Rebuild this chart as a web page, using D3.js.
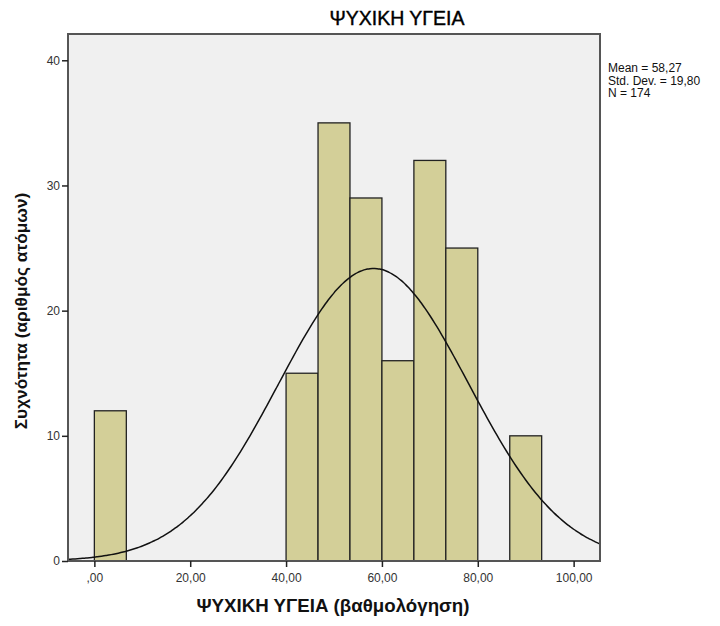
<!DOCTYPE html>
<html>
<head>
<meta charset="utf-8">
<script src="https://cdn.jsdelivr.net/npm/d3@7"></script>
<style>
  body { margin: 0; background: #fff; }
  text { font-family: "Liberation Sans", Arial, sans-serif; }
</style>
</head>
<body>
<div id="chart"></div>
<script>
// histogram bins (lower edge, upper edge) and counts
const binStarts = [0, 40, 46.67, 53.33, 60, 66.67, 73.33, 86.67];
const binEnds = [6.67, 46.67, 53.33, 60, 66.67, 73.33, 80, 93.33];
const counts = [12, 15, 35, 29, 16, 32, 25, 10];

const xTicks = [0, 20, 40, 60, 80, 100];
const xTickLabels = [",00", "20,00", "40,00", "60,00", "80,00", "100,00"];
const yTicks = [0, 10, 20, 30, 40];

const mean = 58.27;
const sd = 19.80;
const n = 174;
const binWidth = 6.667;
const statsLines = ["Mean = 58,27", "Std. Dev. = 19,80", "N = 174"];

const width = 720, height = 626;
const plotLeft = 68, plotRight = 600, plotTop = 34, plotBottom = 561;

const svg = d3.select("#chart").append("svg")
    .attr("width", width)
    .attr("height", height);

const x = d3.scaleLinear().domain([-5.5, 105.5]).range([plotLeft, plotRight]);
const y = d3.scaleLinear().domain([0, 42.1]).range([plotBottom, plotTop]);

// plot background
svg.append("rect")
    .attr("x", plotLeft).attr("y", plotTop)
    .attr("width", plotRight - plotLeft).attr("height", plotBottom - plotTop)
    .attr("fill", "#f0f0f0");

// bars
svg.append("g")
    .selectAll("rect")
    .data(counts)
    .join("rect")
    .attr("x", (d, i) => x(binStarts[i]))
    .attr("width", (d, i) => x(binEnds[i]) - x(binStarts[i]))
    .attr("y", d => y(d))
    .attr("height", d => y(0) - y(d))
    .attr("fill", "#d3cf98")
    .attr("stroke", "#222")
    .attr("stroke-width", 1.3);

// normal curve
const curvePts = d3.range(-5.5, 105.51, 0.5).map(v => [v,
    n * binWidth / (sd * Math.sqrt(2 * Math.PI)) * Math.exp(-0.5 * ((v - mean) / sd) ** 2)]);
svg.append("path")
    .datum(curvePts)
    .attr("fill", "none")
    .attr("stroke", "#111")
    .attr("stroke-width", 1.5)
    .attr("d", d3.line().x(d => x(d[0])).y(d => y(d[1])).curve(d3.curveBasis));

// frame
svg.append("rect")
    .attr("x", plotLeft).attr("y", plotTop)
    .attr("width", plotRight - plotLeft).attr("height", plotBottom - plotTop)
    .attr("fill", "none")
    .attr("stroke", "#555")
    .attr("stroke-width", 2);

// axes
const xAxis = svg.append("g")
    .attr("transform", `translate(0,${plotBottom})`)
    .call(d3.axisBottom(x).tickValues(xTicks).tickFormat((d, i) => xTickLabels[i]).tickSize(6).tickPadding(6));
const yAxis = svg.append("g")
    .attr("transform", `translate(${plotLeft},0)`)
    .call(d3.axisLeft(y).tickValues(yTicks).tickSize(6).tickPadding(2));
[xAxis, yAxis].forEach(g => {
    g.select(".domain").remove();
    g.selectAll(".tick line").attr("stroke", "#222").attr("stroke-width", 1.5);
    g.selectAll(".tick text").attr("fill", "#333").style("font-size", "12px")
        .style("font-family", "'Liberation Sans', Arial, sans-serif");
});

// title
svg.append("text")
    .attr("x", 397).attr("y", 25)
    .attr("text-anchor", "middle")
    .style("font-size", "19.5px")
    .attr("fill", "#000")
    .attr("stroke", "#000")
    .attr("stroke-width", 0.4)
    .text("ΨΥΧΙΚΗ ΥΓΕΙΑ");

// axis titles
svg.append("text")
    .attr("x", 333).attr("y", 612)
    .attr("text-anchor", "middle")
    .style("font-size", "18.7px")
    .style("font-weight", "bold")
    .attr("fill", "#111")
    .text("ΨΥΧΙΚΗ ΥΓΕΙΑ (βαθμολόγηση)");

svg.append("text")
    .attr("transform", "translate(27,311) rotate(-90)")
    .attr("text-anchor", "middle")
    .style("font-size", "17.3px")
    .style("font-weight", "bold")
    .attr("fill", "#111")
    .text("Συχνότητα (αριθμός ατόμων)");

// stats box text
svg.append("g")
    .selectAll("text")
    .data(statsLines)
    .join("text")
    .attr("x", 608)
    .attr("y", (d, i) => 72 + i * 12.5)
    .style("font-size", "12px")
    .attr("fill", "#111")
    .text(d => d);
</script>
</body>
</html>
